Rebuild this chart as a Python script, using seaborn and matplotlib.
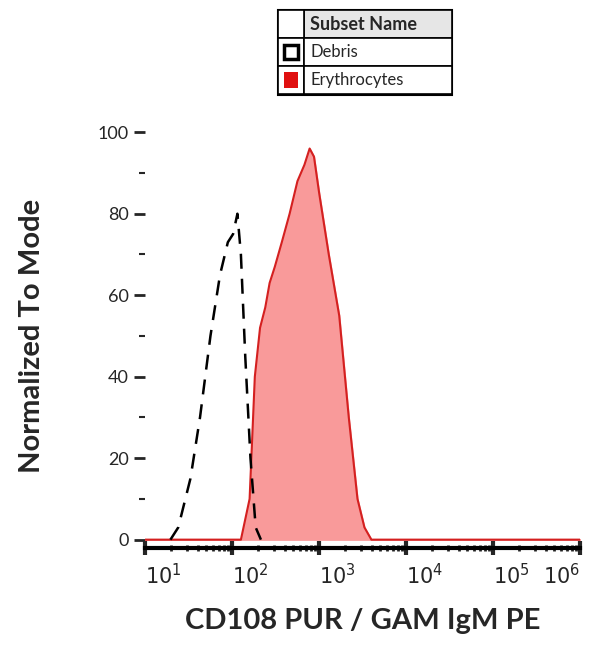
import numpy as np
import matplotlib
matplotlib.use('Agg')
from matplotlib import pyplot as plt
from matplotlib import patches
import seaborn as sns

sns.set_style('white')
plt.rcParams['font.family'] = ['Lato', 'DejaVu Sans']

# values (log10 intensity, % of mode)
debris_log = [1.29, 1.38, 1.52, 1.63, 1.75, 1.86, 1.95, 2.01, 2.06, 2.10, 2.15, 2.21, 2.27, 2.33]
debris_pct = [0, 3, 15, 30, 50, 65, 73, 75, 80, 70, 45, 20, 3, 0]
ery_log = [1.0, 2.10, 2.20, 2.26, 2.32, 2.38, 2.43, 2.49, 2.57, 2.66, 2.75, 2.83, 2.89, 2.94,
           3.00, 3.11, 3.23, 3.34, 3.44, 3.52, 3.60, 6.0]
ery_pct = [0, 0, 10, 40, 52, 57, 63, 67, 73, 80, 88, 92, 96, 94,
           85, 70, 55, 30, 10, 3, 0, 0]
subsets = ['Debris', 'Erythrocytes']

fig = plt.figure(figsize=(6, 6.6), dpi=100)
ax = fig.add_axes([0.242, 0.170, 0.725, 0.642])

dx = 10 ** np.array(debris_log)
ex = 10 ** np.array(ery_log)
ax.fill_between(ex, ery_pct, color='#f99a9a', zorder=1)
sns.lineplot(x=ex, y=ery_pct, ax=ax, color='#d42020', lw=1.5, sort=False, zorder=2)
sns.lineplot(x=dx, y=debris_pct, ax=ax, color='black', lw=1.8, sort=False,
             dashes=False, zorder=3).lines[-1].set_dashes([6, 4])

ax.set_xscale('log')
ax.set_xlim(10, 1e6)
ax.set_ylim(-2, 102)
for s in ['top', 'right', 'left']:
    ax.spines[s].set_visible(False)
ax.spines['bottom'].set_linewidth(3)
ax.spines['bottom'].set_color('black')
ax.set_yticks([0, 20, 40, 60, 80, 100])
ax.set_yticks(np.arange(10, 100, 20), minor=True)
ax.tick_params(axis='y', which='major', left=True, length=8, width=2, labelsize=13, pad=4)
ax.tick_params(axis='y', which='minor', left=True, length=4, width=1.5)
ax.set_xticks([10 ** k for k in range(1, 7)])
ax.set_xticklabels(['$10^{%d}$' % k for k in range(1, 7)])
ax.tick_params(axis='x', which='major', bottom=True, length=10, width=3, labelsize=15, pad=6, direction='inout')
ax.tick_params(axis='x', which='minor', bottom=True, length=5, width=2, direction='inout')
for i, lab in enumerate(ax.get_xticklabels()):
    lab.set_ha('right' if i == 5 else 'left')
ax.set_ylabel('Normalized To Mode', fontsize=21, fontweight='bold', labelpad=38)
ax.set_xlabel('CD108 PUR / GAM IgM PE', fontsize=21, fontweight='bold', labelpad=14)

# legend table
W, H = 600, 660
def box(x0, y0, x1, y1, fc='white', lw=1.2):
    fig.patches.append(patches.Rectangle((x0 / W, 1 - y1 / H), (x1 - x0) / W, (y1 - y0) / H,
                                         transform=fig.transFigure, fc=fc, ec='black', lw=lw))
box(278, 10, 452, 95, lw=1.5)
box(304, 10, 452, 38, fc='#e6e6e6')
box(278, 10, 304, 38)
box(278, 38, 304, 66); box(304, 38, 452, 66)
box(278, 66, 304, 94); box(304, 66, 452, 94)
fig.text(310 / W, 1 - 24 / H, 'Subset Name', fontsize=13, fontweight='bold', va='center')
fig.patches.append(patches.Rectangle((284 / W, 1 - 59 / H), 14 / W, 14 / H, transform=fig.transFigure,
                                     fc='white', ec='black', lw=2.5))
fig.patches.append(patches.Rectangle((284 / W, 1 - 88 / H), 14 / W, 16 / H, transform=fig.transFigure,
                                     fc='#e01010', ec='none'))
for i, name in enumerate(subsets):
    fig.text(310 / W, 1 - (52 + 28 * i) / H, name, fontsize=12, va='center')

fig.savefig('out.png', dpi=100)
